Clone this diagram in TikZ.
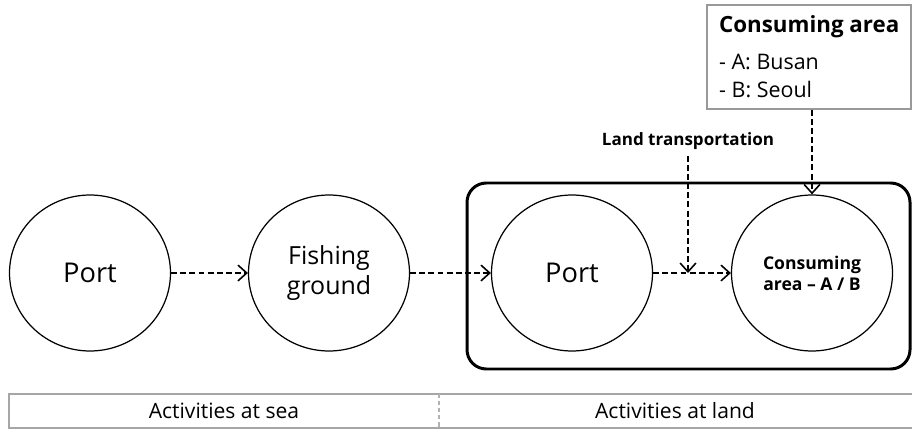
\documentclass[tikz,border=0pt]{standalone}
\usepackage{fontspec}
\setmainfont{Open Sans}
\usetikzlibrary{shapes.geometric,arrows.meta}

\tikzset{
  place/.style={ellipse, draw, line width=0.7pt, minimum width=3.22cm, minimum height=3.12cm, inner sep=0pt, align=center},
  flow/.style={dashed, line width=1pt, dash pattern=on 3.4pt off 1.8pt, -{Straight Barb[length=5pt,width=9pt,line width=0.9pt]}},
  tablerule/.style={draw=black!35, line width=0.8pt},
}

\begin{document}
\begin{tikzpicture}[x=0.02cm, y=-0.02cm]

  \useasboundingbox (0,0) rectangle (912,429);

  % places along the route
  \node[place, font=\fontsize{15.5}{17}\selectfont] (port1) at (90,273) {Port};
  \node[place, font=\fontsize{14.2}{17.5}\selectfont] (fish) at (329,273) {Fishing\\ground};
  \node[place, font=\fontsize{15.5}{17}\selectfont] (port2) at (572,273) {Port};
  \node[place, font=\bfseries\fontsize{10}{12}\selectfont] (cons) at (812,273) {Consuming\\area -- A / B};

  % land side frame
  \draw[line width=1.7pt, rounded corners=11pt] (467,183) rectangle (910,369);

  % consuming area box
  \node[draw=black!40, line width=0.7pt, minimum width=4.08cm, minimum height=2.08cm, inner sep=0pt] (legend) at (809,57) {};
  \node[anchor=west, font=\bfseries\fontsize{12.7}{15}\selectfont] (legendhead) at (713,27) {Consuming area};
  \node[anchor=west, font=\fontsize{12.2}{14}\selectfont] (busan) at (713,62) {- A: Busan};
  \node[anchor=west, font=\fontsize{12.2}{14}\selectfont] (seoul) at (713,90) {- B: Seoul};

  \node[font=\bfseries\fontsize{9.7}{11}\selectfont] (land) at (688,141) {Land transportation};
  \coordinate (join) at (688,273);

  % connectors
  \draw[flow] (port1) -- (fish);
  \draw[flow] (fish) -- (port2);
  \draw[flow] (port2) -- (cons);
  \draw[flow] (land.south) -- (join);
  \draw[flow] (legend.south -| cons.north) -- (cons.north);

  % activities table
  \draw[tablerule] (912,394) -- (9,394) -- (9,428) -- (912,428);
  \draw[black!30, line width=0.8pt, dashed, dash pattern=on 2.5pt off 1.5pt] (439,394) -- (439,428);
  \node[font=\fontsize{12}{14}\selectfont] (sea) at (224,411) {Activities at sea};
  \node[font=\fontsize{12}{14}\selectfont] (landact) at (675,411) {Activities at land};

\end{tikzpicture}
\end{document}
